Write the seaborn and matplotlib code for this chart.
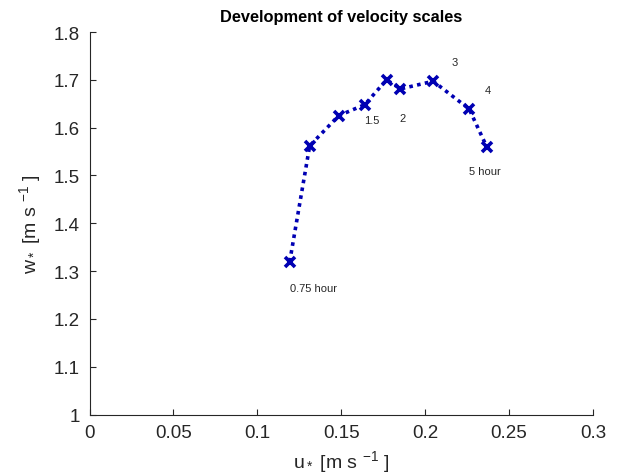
import matplotlib
matplotlib.use("Agg")
import matplotlib.pyplot as plt
import seaborn as sns
import pandas as pd

u_star = [0.1193, 0.1312, 0.1485, 0.1640, 0.1770, 0.1853, 0.2048, 0.2262, 0.2368]
w_star = [1.320, 1.562, 1.625, 1.648, 1.700, 1.681, 1.697, 1.639, 1.559]

label_texts = ["0.75 hour", "1.5", "2", "3", "4", "5 hour"]
label_x = [0.1336, 0.1682, 0.1867, 0.2177, 0.2374, 0.2356]
label_y = [1.265, 1.616, 1.620, 1.737, 1.679, 1.510]

x_ticks = [0, 0.05, 0.1, 0.15, 0.2, 0.25, 0.3]
x_tick_labels = ["0", "0.05", "0.1", "0.15", "0.2", "0.25", "0.3"]
y_ticks = [1, 1.1, 1.2, 1.3, 1.4, 1.5, 1.6, 1.7, 1.8]
y_tick_labels = ["1", "1.1", "1.2", "1.3", "1.4", "1.5", "1.6", "1.7", "1.8"]

sns.set_style("ticks")
plt.rcParams['font.family'] = ['Liberation Sans', 'DejaVu Sans']
plt.rcParams['mathtext.fontset'] = 'custom'
plt.rcParams['mathtext.rm'] = 'Liberation Sans'
plt.rcParams['mathtext.it'] = 'Liberation Sans'

df = pd.DataFrame({"u": u_star, "w": w_star})

fig = plt.figure(figsize=(6.19, 4.77), dpi=100)
ax = fig.add_axes([89.5/619, 61.5/477, 503.5/619, 382.5/477])

color = "#0000B3"
sns.lineplot(data=df, x="u", y="w", sort=False, ax=ax, color=color,
             linestyle=(0, (1, 1.2)), linewidth=2.6, marker="x",
             markersize=7.5, markeredgewidth=2.6, markeredgecolor=color)

for t, lx, ly in zip(label_texts, label_x, label_y):
    ax.text(lx, ly, t, ha="center", va="center", fontsize=8, color="#262626")

ax.set_xlim(0, 0.3)
ax.set_ylim(1, 1.8)
ax.set_xticks(x_ticks)
ax.set_xticklabels(x_tick_labels)
ax.set_yticks(y_ticks)
ax.set_yticklabels(y_tick_labels)
ax.tick_params(direction="in", length=4, width=0.8, colors="#262626",
               labelsize=13.5, labelcolor="#262626")
ax.tick_params(axis="x", pad=7)
ax.tick_params(axis="y", pad=7)
for s in ["top", "right"]:
    ax.spines[s].set_visible(False)
for s in ["left", "bottom"]:
    ax.spines[s].set_color("#262626")
    ax.spines[s].set_linewidth(0.8)

ax.set_xlabel(r"u$_*$ [m s $^{-1}$ ]", fontsize=14, color="#262626", labelpad=5)
ax.set_ylabel(r"w$_*$ [m s $^{-1}$ ]", fontsize=14, color="#262626", labelpad=8)
ax.set_title("Development of velocity scales", fontsize=11.8, fontweight="bold",
             color="black", pad=8)

fig.savefig("out.png", dpi=100)
